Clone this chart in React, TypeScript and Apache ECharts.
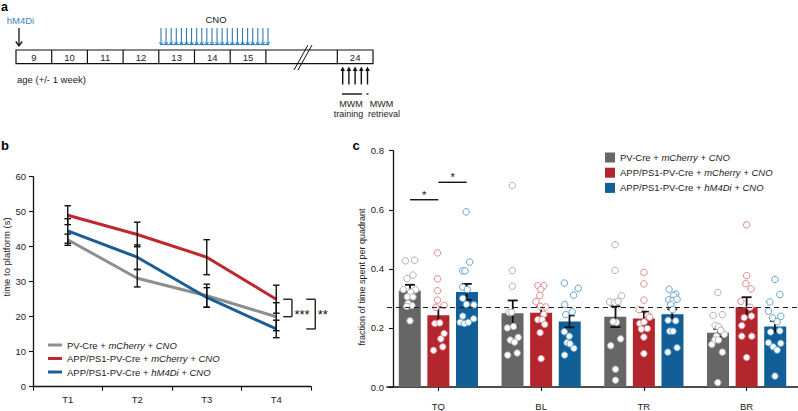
import React, { useEffect, useRef } from 'react';
import * as echarts from 'echarts';

const FONT = '"Liberation Sans", Arial, Helvetica, sans-serif';
const TXT = '#222';

// ---------------- panel a : timeline ----------------
const ageLabels = ['9', '10', '11', '12', '13', '14', '15', '', '24'];
const ageCellSpans = [1, 1, 1, 1, 1, 1, 1, 2, 1];
const cnoInjections = 22;
const mwmTrainingDays = 4;
const mwmRetrievalDays = 1;

// ---------------- panel b : time to platform ----------------
const trials = ['T1', 'T2', 'T3', 'T4'];
const latencyPV = [42, 31, 26, 20];
const latencyAPP = [49, 43.5, 37, 25];
const latencyHM4 = [44.5, 37, 25.5, 16.5];
const semLatPV = [1.6, 2.5, 3.3, 4];
const semLatAPP = [2.7, 3.5, 5, 4];
const semLatHM4 = [3.5, 3.5, 2.8, 2.5];

// ---------------- panel c : quadrant occupancy ----------------
const quadrants = ['TQ', 'BL', 'TR', 'BR'];
const fracPV = [0.326, 0.25, 0.238, 0.184];
const fracAPP = [0.243, 0.251, 0.232, 0.27];
const fracHM4 = [0.322, 0.222, 0.246, 0.205];
const semFracPV = [0.02, 0.043, 0.035, 0.013];
const semFracAPP = [0.027, 0.02, 0.023, 0.034];
const semFracHM4 = [0.027, 0.02, 0.017, 0.018];
const chanceLevel = 0.265;

// individual animals: [jitter (fraction of a category), value]
const pointsPV = [
  [[-0.045, 0.427], [0.045, 0.429], [0.029, 0.379], [-0.029, 0.367], [0.055, 0.329], [-0.065, 0.33], [0.006, 0.321], [-0.026, 0.305], [0.029, 0.305], [-0.019, 0.283], [0.019, 0.276], [-0.032, 0.273], [0, 0.224]],
  [[-0.005, 0.682], [-0.005, 0.394], [-0.005, 0.341], [-0.037, 0.253], [-0.011, 0.253], [-0.053, 0.2], [0.008, 0.205], [0.053, 0.168], [-0.024, 0.159], [0.018, 0.152], [-0.05, 0.108], [0.043, 0.115]],
  [[-0.005, 0.482], [-0.005, 0.395], [0.059, 0.309], [-0.056, 0.288], [-0.008, 0.286], [0.024, 0.29], [0.008, 0.219], [-0.024, 0.221], [0.05, 0.163], [-0.047, 0.14], [0, 0.06], [0, 0.023]],
  [[-0.005, 0.32], [-0.05, 0.242], [0.04, 0.245], [-0.031, 0.209], [0.002, 0.204], [0.059, 0.178], [-0.018, 0.172], [-0.034, 0.159], [-0.063, 0.144], [0.04, 0.118], [-0.005, 0.015], [0.024, 0.192], [0.002, 0.159]],
];
const pointsAPP = [
  [[-0.008, 0.454], [-0.008, 0.366], [-0.008, 0.326], [-0.008, 0.294], [-0.024, 0.27], [0.056, 0.276], [-0.034, 0.215], [0.014, 0.217], [0.056, 0.181], [0.024, 0.163], [0.043, 0.136], [-0.047, 0.124]],
  [[-0.032, 0.343], [0.026, 0.343], [-0.003, 0.33], [-0.013, 0.31], [-0.051, 0.289], [-0.006, 0.273], [0.045, 0.271], [0.026, 0.246], [-0.032, 0.228], [0.01, 0.228], [0.035, 0.212], [-0.01, 0.184], [0, 0.096]],
  [[0, 0.388], [0, 0.349], [0, 0.294], [-0.047, 0.262], [0.04, 0.242], [0.056, 0.236], [-0.04, 0.215], [0.002, 0.22], [-0.024, 0.196], [0.034, 0.198], [0, 0.169], [0, 0.113]],
  [[0, 0.549], [0, 0.377], [-0.008, 0.35], [0.043, 0.332], [-0.056, 0.29], [0.034, 0.27], [0.047, 0.24], [-0.024, 0.235], [-0.047, 0.208], [-0.047, 0.172], [0.05, 0.172], [0, 0.1]],
];
const pointsHM4 = [
  [[-0.006, 0.593], [0.029, 0.423], [-0.039, 0.393], [-0.016, 0.393], [-0.039, 0.338], [0.006, 0.33], [-0.039, 0.3], [0.07, 0.278], [-0.003, 0.28], [-0.039, 0.24], [-0.064, 0.219], [-0.023, 0.215], [0.016, 0.219], [0.068, 0.231]],
  [[-0.05, 0.352], [0.085, 0.334], [0.04, 0.311], [-0.047, 0.279], [0.027, 0.255], [-0.037, 0.245], [-0.05, 0.187], [-0.024, 0.15], [0.005, 0.146], [0.043, 0.131], [-0.047, 0.108], [-0.002, 0.172]],
  [[-0.031, 0.331], [0.034, 0.315], [0.014, 0.31], [-0.034, 0.295], [0.008, 0.293], [0.047, 0.297], [-0.014, 0.278], [0.002, 0.262], [-0.04, 0.226], [0.034, 0.224], [-0.024, 0.189], [0.008, 0.189], [0.047, 0.133], [-0.043, 0.118]],
  [[0, 0.364], [0.047, 0.313], [-0.05, 0.288], [-0.063, 0.257], [-0.024, 0.234], [0.056, 0.239], [0.021, 0.221], [-0.043, 0.186], [0.047, 0.19], [-0.063, 0.15], [0.056, 0.148], [-0.018, 0.136], [0.021, 0.125], [0, 0.037]],
];

// group names (plain part + italic part)
const groupPlain = ['PV-Cre + ', 'APP/PS1-PV-Cre + ', 'APP/PS1-PV-Cre + '];
const groupItalic = ['mCherry + CNO', 'mCherry + CNO', 'hM4Di + CNO'];

const lineColors = ['#8e8e8e', '#c0282e', '#1b5e95'];
const barColors = ['#666666', '#b3262e', '#125f97'];
const dotColors = ['#b0b0b0', '#e3868c', '#65a1d3'];

const latency = [latencyPV, latencyAPP, latencyHM4];
const semLat = [semLatPV, semLatAPP, semLatHM4];
const frac = [fracPV, fracAPP, fracHM4];
const semFrac = [semFracPV, semFracAPP, semFracHM4];
const points = [pointsPV, pointsAPP, pointsHM4];

const GROUP_SHIFT = [-0.276, 0, 0.276];

function txt(text: string, x: number, y: number, style: any = {}, extra: any = {}) {
  return {
    type: 'text', x, y, silent: true, ...extra,
    style: { text, fontFamily: FONT, fontSize: 9.5, fill: TXT, align: 'left', verticalAlign: 'middle', ...style },
  };
}
function seg(x1: number, y1: number, x2: number, y2: number, stroke = '#111', lineWidth = 1.2) {
  return { type: 'line', silent: true, shape: { x1, y1, x2, y2 }, style: { stroke, lineWidth } };
}

function panelA(): any[] {
  const els: any[] = [];
  const x0 = 16, y0 = 50, h = 13.7, unit = 35.7;
  const total = ageCellSpans.reduce((a, b) => a + b, 0);
  els.push({ type: 'rect', silent: true, shape: { x: x0, y: y0, width: unit * total, height: h }, style: { fill: '#fff', stroke: '#111', lineWidth: 1.2 } });
  let cx = x0;
  ageLabels.forEach((lab, i) => {
    const w = ageCellSpans[i] * unit;
    if (i > 0) els.push(seg(cx, y0, cx, y0 + h));
    if (lab) els.push(txt(lab, cx + w / 2, y0 + h / 2 + 0.5, { align: 'center' }));
    cx += w;
  });
  // break marks
  els.push(seg(294, 70, 308, 45, '#111', 1));
  els.push(seg(298, 70, 312, 45, '#111', 1));
  // hM4Di injection
  els.push(txt('hM4Di', 20.5, 20, { align: 'center', fill: '#3a88c6' }));
  els.push(seg(19, 28, 19, 45.5, '#111', 1.3));
  els.push({ type: 'polyline', silent: true, shape: { points: [[15.8, 41.5], [19, 45.8], [22.2, 41.5]] }, style: { stroke: '#111', lineWidth: 1.3, fill: 'none' } });
  // CNO injections
  const blue = '#2b7ab8';
  els.push(txt('CNO', 216, 19.5, { align: 'center' }));
  const cx0 = 161, cx1 = 268;
  for (let k = 0; k < cnoInjections; k++) {
    const x = cx0 + ((cx1 - cx0) * k) / (cnoInjections - 1);
    els.push(seg(x, 28, x, 44.5, blue, 1.1));
    els.push({ type: 'polyline', silent: true, shape: { points: [[x - 1.6, 42.2], [x, 44.8], [x + 1.6, 42.2]] }, style: { stroke: blue, lineWidth: 1, fill: 'none' } });
  }
  els.push(seg(160, 44.6, 269, 44.6, blue, 1));
  els.push(txt('age (+/- 1 week)', 17, 79.5));
  // MWM arrows
  const n = mwmTrainingDays + mwmRetrievalDays;
  const xs: number[] = [];
  for (let k = 0; k < n; k++) xs.push(342.7 + k * 6.2);
  xs.forEach((x) => {
    els.push(seg(x, 84.5, x, 69.5, '#111', 1.4));
    els.push({ type: 'polygon', silent: true, shape: { points: [[x - 2.3, 71], [x, 66.5], [x + 2.3, 71]] }, style: { fill: '#111' } });
  });
  els.push(seg(xs[0] - 0.8, 94, xs[mwmTrainingDays - 1] + 0.8, 94, '#111', 1.4));
  els.push(seg(xs[n - 1] - 1, 94, xs[n - 1] + 1, 94, '#111', 1.4));
  els.push(txt('MWM', 351, 103.5, { align: 'center', fontSize: 9 }));
  els.push(txt('training', 348.5, 113.5, { align: 'center', fontSize: 9 }));
  els.push(txt('MWM', 381.5, 103.5, { align: 'center', fontSize: 9 }));
  els.push(txt('retrieval', 384, 113.5, { align: 'center', fontSize: 9 }));
  return els;
}

function buildOption(): any {
  const series: any[] = [];
  // panel b lines
  latency.forEach((vals, g) => {
    series.push({
      name: 'b' + g, type: 'line', xAxisIndex: 0, yAxisIndex: 0, data: vals,
      symbol: 'none', color: lineColors[g], lineStyle: { width: 3, color: lineColors[g] }, z: 3,
    });
  });
  // panel b error bars
  const errB: any[] = [];
  latency.forEach((vals, g) => vals.forEach((v, i) => errB.push([i, v - semLat[g][i], v + semLat[g][i]])));
  series.push({
    type: 'custom', xAxisIndex: 0, yAxisIndex: 0, data: errB, encode: { x: 0, y: [1, 2] }, z: 4,
    renderItem: (params: any, api: any) => {
      const i = api.value(0);
      const top = api.coord([i, api.value(2)]);
      const bot = api.coord([i, api.value(1)]);
      const cap = 3.3;
      const st = { stroke: '#111', lineWidth: 1.4 };
      return {
        type: 'group', children: [
          { type: 'line', shape: { x1: top[0], y1: top[1], x2: bot[0], y2: bot[1] }, style: st },
          { type: 'line', shape: { x1: top[0] - cap, y1: top[1], x2: top[0] + cap, y2: top[1] }, style: st },
          { type: 'line', shape: { x1: bot[0] - cap, y1: bot[1], x2: bot[0] + cap, y2: bot[1] }, style: st },
        ],
      };
    },
  });
  // panel c bars
  frac.forEach((vals, g) => {
    const s: any = {
      name: 'c' + g, type: 'bar', xAxisIndex: 1, yAxisIndex: 1, data: vals,
      barWidth: 22, barGap: '30%', itemStyle: { color: barColors[g] }, z: 2,
    };
    if (g === 0) {
      s.markLine = {
        silent: true, symbol: 'none', label: { show: false }, z: 6,
        lineStyle: { type: [5, 4], color: '#222', width: 1 },
        data: [{ yAxis: chanceLevel }],
      };
    }
    series.push(s);
  });
  // panel c error bars
  const errC: any[] = [];
  frac.forEach((vals, g) => vals.forEach((v, q) => errC.push([q + GROUP_SHIFT[g], v - semFrac[g][q], v + semFrac[g][q]])));
  series.push({
    type: 'custom', xAxisIndex: 2, yAxisIndex: 1, data: errC, encode: { x: 0, y: [1, 2] }, z: 4,
    renderItem: (params: any, api: any) => {
      const x = api.value(0);
      const top = api.coord([x, api.value(2)]);
      const bot = api.coord([x, api.value(1)]);
      const cap = 5;
      const st = { stroke: '#111', lineWidth: 1.8 };
      return {
        type: 'group', children: [
          { type: 'line', shape: { x1: top[0], y1: top[1], x2: bot[0], y2: bot[1] }, style: st },
          { type: 'line', shape: { x1: top[0] - cap, y1: top[1], x2: top[0] + cap, y2: top[1] }, style: st },
          { type: 'line', shape: { x1: bot[0] - cap, y1: bot[1], x2: bot[0] + cap, y2: bot[1] }, style: st },
        ],
      };
    },
  });
  // panel c individual points
  points.forEach((byQ, g) => {
    const data: number[][] = [];
    byQ.forEach((pts, q) => pts.forEach(([j, v]) => data.push([q + GROUP_SHIFT[g] + j, v])));
    series.push({
      type: 'scatter', xAxisIndex: 2, yAxisIndex: 1, data, symbol: 'circle', symbolSize: 6.5, z: 5,
      itemStyle: { color: '#fff', borderColor: dotColors[g], borderWidth: 1, opacity: 1 },
    });
  });

  const axisLine = { show: true, onZero: false, lineStyle: { color: '#111', width: 1.3 } };
  const axisTick = { show: true, length: 4, lineStyle: { color: '#111', width: 1.1 } };
  const axisLabel = { color: TXT, fontSize: 9.5, fontFamily: FONT };
  const rich = {
    n: { fontFamily: FONT, fontSize: 9.5, color: TXT },
    i: { fontFamily: FONT, fontSize: 9.5, color: TXT, fontStyle: 'italic' },
  };
  const fmt = (name: string) => {
    const g = parseInt(name.slice(1), 10);
    return `{n|${groupPlain[g]}}{i|${groupItalic[g]}}`;
  };

  return {
    animation: false,
    backgroundColor: '#fff',
    textStyle: { fontFamily: FONT },
    grid: [
      { left: 33, top: 176.7, width: 278, height: 210 },
      { left: 387, top: 150.7, width: 414.8, height: 237 },
    ],
    xAxis: [
      { type: 'category', gridIndex: 0, data: trials, boundaryGap: true, axisLine, axisTick, axisLabel: { ...axisLabel, margin: 8 }, splitLine: { show: false } },
      { type: 'category', gridIndex: 1, data: quadrants, axisLine: { show: true, onZero: false, lineStyle: { color: '#111', width: 1.6 } }, axisTick: { ...axisTick, alignWithLabel: true }, axisLabel: { ...axisLabel, margin: 14 }, splitLine: { show: false } },
      { type: 'value', gridIndex: 1, min: -0.5, max: 3.5, show: false, axisLine: { show: false, onZero: false }, splitLine: { show: false } },
    ],
    yAxis: [
      { type: 'value', gridIndex: 0, min: 0, max: 60, interval: 10, axisLine, axisTick, axisLabel: { ...axisLabel, margin: 7 }, splitLine: { show: false } },
      { type: 'value', gridIndex: 1, min: 0, max: 0.8, interval: 0.2, offset: -6, axisLine, axisTick, axisLabel: { ...axisLabel, margin: 9, formatter: (v: number) => v.toFixed(1) }, splitLine: { show: false } },
    ],
    legend: [
      {
        left: 43, top: 335, orient: 'vertical', icon: 'rect', itemWidth: 14, itemHeight: 3, itemGap: 3.5,
        data: ['b0', 'b1', 'b2'], formatter: fmt, textStyle: { rich, fontSize: 9.5 }, selectedMode: false,
      },
      {
        left: 600, top: 147.5, orient: 'vertical', icon: 'rect', itemWidth: 10, itemHeight: 10, itemGap: 5.2,
        data: ['c0', 'c1', 'c2'], formatter: fmt, textStyle: { rich, fontSize: 9.5 }, selectedMode: false,
      },
    ],
    series,
  };
}

function buildGraphics(chart: any): any[] {
  const els: any[] = panelA();
  // panel letters
  els.push(txt('a', 1, 0.5, { fontSize: 12.5, fontWeight: 'bold', fill: '#000', verticalAlign: 'top' }));
  els.push(txt('b', 1, 145.5, { fontSize: 13, fontWeight: 'bold', fill: '#000' }));
  els.push(txt('c', 352.5, 145.5, { fontSize: 13, fontWeight: 'bold', fill: '#000' }));
  // axis titles
  els.push(txt('time to platform (s)', 6, 257, { align: 'center' }, { rotation: Math.PI / 2 }));
  els.push(txt('fraction of time spent per quadrant', 362, 277, { align: 'center', fontSize: 9 }, { rotation: Math.PI / 2 }));

  // panel b significance brackets at T4
  const last = trials.length - 1;
  const pB = (v: number) => chart.convertToPixel({ xAxisIndex: 0, yAxisIndex: 0 }, [last, v]);
  const brackets = [
    { a: latencyAPP[last], b: latencyPV[last], dx0: 7, dx1: 15.7, label: '***' },
    { a: latencyAPP[last], b: latencyHM4[last], dx0: 30, dx1: 39, label: '**' },
  ];
  brackets.forEach((br) => {
    const pa = pB(br.a), pb = pB(br.b);
    const x0 = pa[0] + br.dx0, x1 = pa[0] + br.dx1;
    els.push(seg(x0, pa[1], x1, pa[1], '#111', 1.3));
    els.push(seg(x1, pa[1], x1, pb[1], '#111', 1.3));
    els.push(seg(x0, pb[1], x1, pb[1], '#111', 1.3));
    els.push(txt(br.label, x1 + 2.5, 314.5, { fontSize: 13, fill: '#111' }));
  });

  // panel c significance (TQ)
  const pC = (x: number, v: number) => chart.convertToPixel({ xAxisIndex: 2, yAxisIndex: 1 }, [x, v]);
  const sigs = [
    { g0: 0, g1: 1, level: 0.634 },
    { g0: 1, g1: 2, level: 0.693 },
  ];
  sigs.forEach((s) => {
    const p0 = pC(0 + GROUP_SHIFT[s.g0], s.level);
    const p1 = pC(0 + GROUP_SHIFT[s.g1], s.level);
    els.push(seg(p0[0], p0[1], p1[0], p1[1], '#111', 1.4));
    els.push(txt('*', (p0[0] + p1[0]) / 2, p0[1] - 5, { fontSize: 11, align: 'center', fill: '#111' }));
  });
  return els;
}

export default function App() {
  const ref = useRef<HTMLDivElement>(null);
  useEffect(() => {
    const el = ref.current;
    if (!el) return;
    const chart = echarts.init(el, undefined, { renderer: 'svg' });
    chart.setOption(buildOption());
    chart.setOption({ graphic: buildGraphics(chart) });
    return () => chart.dispose();
  }, []);
  return (
    <div
      ref={ref}
      style={{ position: 'fixed', left: 0, top: 0, width: 798, height: 411, background: '#fff' }}
    />
  );
}
